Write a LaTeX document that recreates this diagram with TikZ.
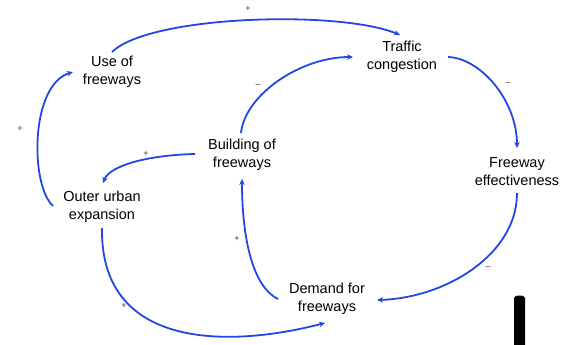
\documentclass[tikz,border=0pt]{standalone}
\usepackage{fontspec}
\setmainfont{Liberation Sans}
\usetikzlibrary{arrows.meta}
\definecolor{arrowblue}{RGB}{35,70,225}
\begin{document}
\begin{tikzpicture}[x=1pt,y=-1pt,
  var/.style={align=center,font=\fontsize{14.5}{18}\selectfont,text=black,inner sep=0pt},
  link/.style={draw=arrowblue,line width=1.8pt,-{Stealth[length=6pt,width=5.5pt]}},
  pol/.style={font=\fontsize{9}{10}\selectfont,text=black!75,inner sep=0pt}]
\useasboundingbox (0,0) rectangle (578,345);
\node[var] (use) at (112,72) {Use of\\freeways};
\node[var] (tc) at (402,57) {Traffic\\congestion};
\node[var] (bld) at (242,155) {Building of\\freeways};
\node[var] (fe) at (517,172) {Freeway\\effectiveness};
\node[var] (oue) at (102,207) {Outer urban\\expansion};
\node[var] (dem) at (327,299) {Demand for\\freeways};
% connectors
\draw[link] ([shift={(0,-20)}]use.center) .. controls (150,15) and (340,10) .. ([shift={(-2,-22)}]tc.center);
\draw[link] ([shift={(-1,-22)}]bld.center) .. controls (245,95) and (300,57) .. ([shift={(-49,0)}]tc.center);
\draw[link] ([shift={(46,0)}]tc.center) .. controls (480,58) and (517,100) .. ([shift={(0,-24)}]fe.center);
\draw[link] ([shift={(0,21)}]fe.center) .. controls (517,255) and (445,298) .. ([shift={(50,1)}]dem.center);
\draw[link] ([shift={(-49,0)}]dem.center) .. controls (250,285) and (242,230) .. ([shift={(0,24)}]bld.center);
\draw[link] ([shift={(-47,-1)}]bld.center) .. controls (150,155) and (110,165) .. ([shift={(1,-24)}]oue.center);
\draw[link] ([shift={(-49,-1)}]oue.center) .. controls (30,185) and (30,85) .. ([shift={(-39,0)}]use.center);
\draw[link] ([shift={(0,21)}]oue.center) .. controls (100,345) and (220,350) .. ([shift={(-2,24)}]dem.center);
% polarities
\node[pol] (p1) at (248,9) {+};
\node[pol] (p2) at (258,86) {--};
\node[pol] (p3) at (508,84) {--};
\node[pol] (p4) at (488,268) {--};
\node[pol] (p5) at (237,239) {+};
\node[pol] (p6) at (146,154) {+};
\node[pol] (p7) at (20,129) {+};
\node[pol] (p8) at (124,306) {+};
% black bar
\fill[black] (514,345) -- (514,298) to[out=90,in=180] (519.5,295.5) to[out=0,in=90] (525,298) -- (525,345) -- cycle;
\end{tikzpicture}
\end{document}
